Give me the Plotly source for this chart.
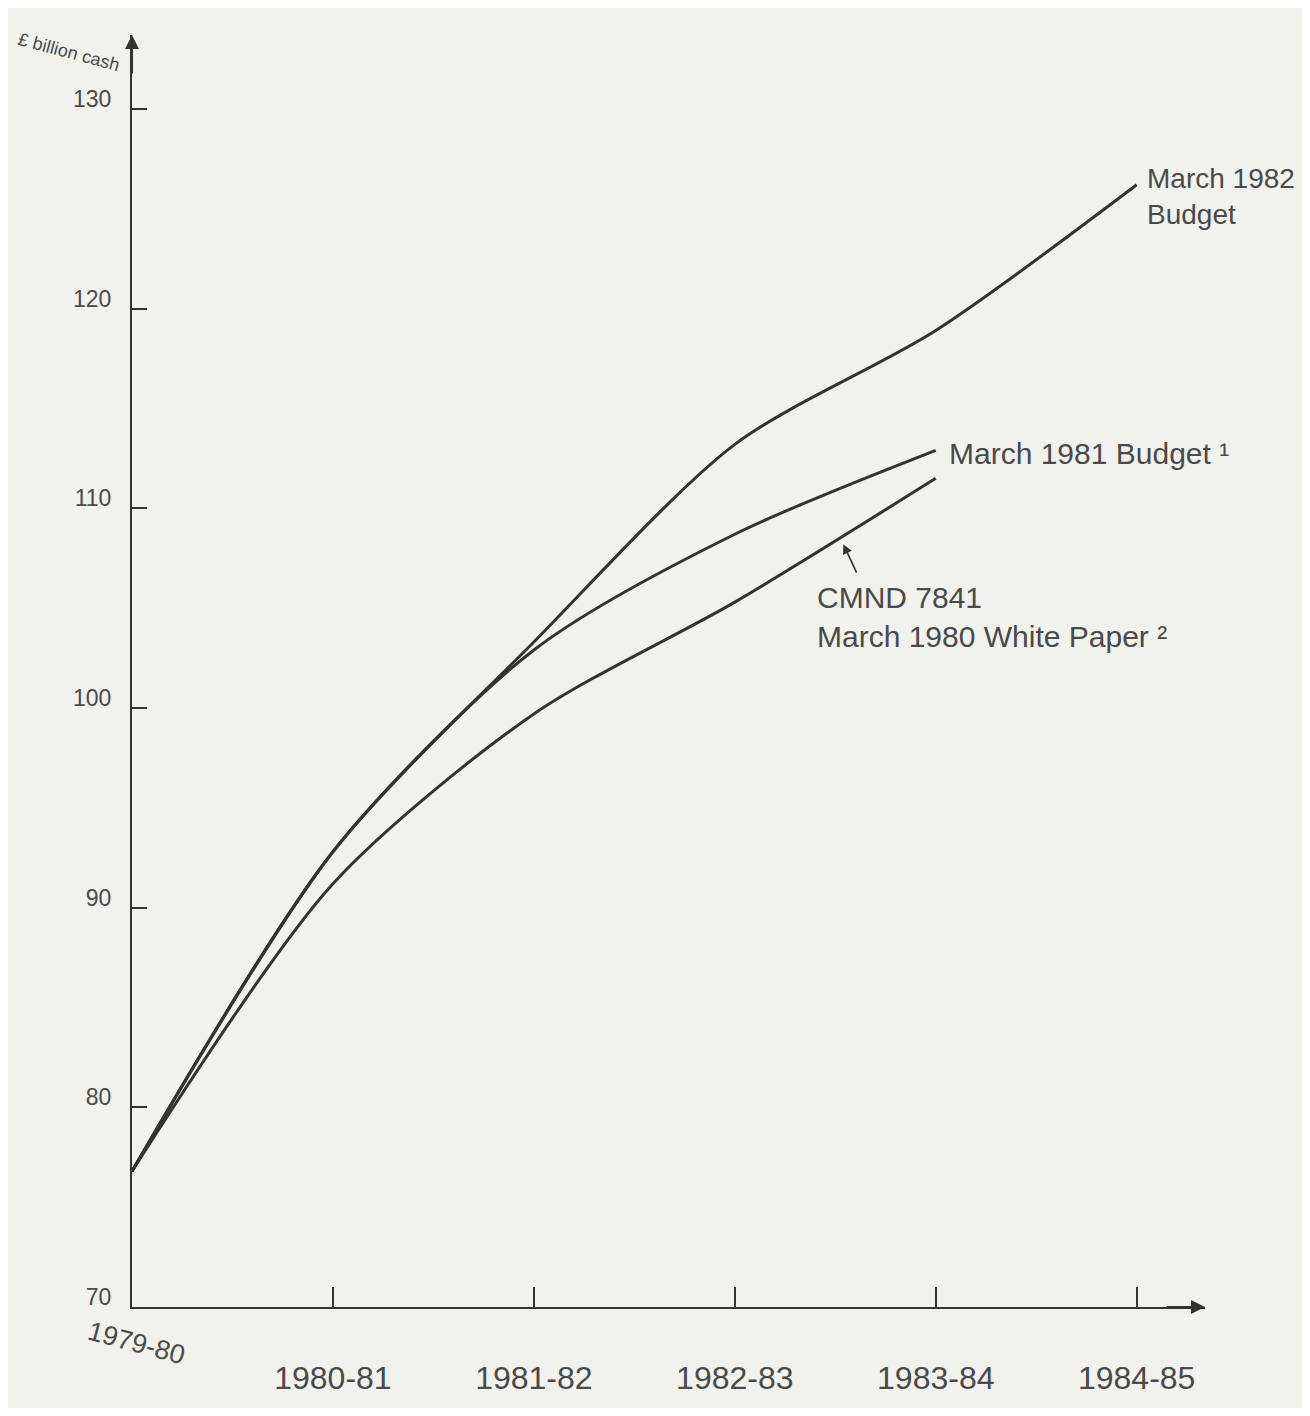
import plotly.graph_objects as go

# ---- data ----
years = ["1979-80", "1980-81", "1981-82", "1982-83", "1983-84", "1984-85"]
x_pos = [0, 1, 2, 3, 4, 5]
budget_1982 = [76.8, 92.8, 103.3, 113.2, 118.9, 126.2]
budget_1981 = [76.8, 92.8, 102.9, 108.7, 112.9]
white_paper_1980 = [76.8, 91.2, 99.7, 105.3, 111.5]
y_ticks = [70, 80, 90, 100, 110, 120, 130]

LINE = "#333333"
TXT = "#4a4a4a"
BG = "#f1f1ee"
FONT = "Liberation Sans, Arial, sans-serif"

fig = go.Figure()
for vals in (budget_1982, budget_1981, white_paper_1980):
    fig.add_trace(go.Scatter(
        x=x_pos[:len(vals)], y=vals, mode="lines",
        line=dict(color=LINE, width=3, shape="spline", smoothing=0.8),
        showlegend=False, hoverinfo="skip"))

ann = []
# series labels
ann.append(dict(x=5.04, y=125.6, text="March 1982<br>Budget", showarrow=False,
                xanchor="left", yanchor="middle", align="left",
                font=dict(size=28, color=TXT, family=FONT)))
ann.append(dict(x=4.055, y=112.75, text="March 1981 Budget \u00b9", showarrow=False,
                xanchor="left", yanchor="middle", align="left",
                font=dict(size=30, color=TXT, family=FONT)))
ann.append(dict(x=3.40, y=104.55, text="CMND 7841<br>March 1980 White Paper \u00b2",
                showarrow=False, xanchor="left", yanchor="middle", align="left",
                font=dict(size=30, color=TXT, family=FONT)))
# small pointer arrow to the White Paper line
ann.append(dict(x=3.54, y=108.2, ax=14, ay=30, text="", showarrow=True,
                arrowhead=2, arrowsize=1.2, arrowwidth=1.6, arrowcolor=LINE))
# axis arrowheads
ann.append(dict(x=5.34, y=70, xref="x", yref="y", ax=-40, ay=0, text="",
                showarrow=True, arrowhead=2, arrowsize=1.4, arrowwidth=2,
                arrowcolor=LINE))
ann.append(dict(x=0, y=133.7, xref="x", yref="y", ax=0, ay=40, text="",
                showarrow=True, arrowhead=2, arrowsize=1.4, arrowwidth=2,
                arrowcolor=LINE))
# axis title
ann.append(dict(x=-0.059, y=0.987, xref="paper", yref="paper", text="\u00a3 billion cash",
                showarrow=False, textangle=15, xanchor="center", yanchor="middle",
                font=dict(size=18, color=TXT, family=FONT)))
# first category label (rotated, at the corner)
ann.append(dict(x=0.004, y=-0.028, xref="paper", yref="paper", text=years[0],
                showarrow=False, textangle=15, xanchor="center", yanchor="middle",
                font=dict(size=27, color=TXT, family=FONT)))

# page body has an 8px margin, so the figure is offset by 8px
fig.update_layout(
    width=1294, height=1400,
    margin=dict(l=124, r=97, t=27, b=93),
    paper_bgcolor=BG, plot_bgcolor=BG,
    annotations=ann,
    font=dict(family=FONT, color=TXT),
    xaxis=dict(range=[0, 5.34], tickvals=x_pos[1:], ticktext=years[1:],
               ticks="inside", ticklen=20, tickwidth=2, tickcolor=LINE,
               showline=True, linecolor=LINE, linewidth=2,
               showgrid=False, zeroline=False,
               ticklabelstandoff=42,
               tickfont=dict(size=32, color=TXT, family=FONT)),
    yaxis=dict(range=[70, 133.7], tickvals=y_ticks,
               ticks="inside", ticklen=15, tickwidth=2, tickcolor=LINE,
               showline=True, linecolor=LINE, linewidth=2,
               showgrid=False, zeroline=False,
               ticklabelstandoff=14, ticklabelshift=-10,
               tickfont=dict(size=23, color=TXT, family=FONT)),
)

fig.write_html("out.html")
